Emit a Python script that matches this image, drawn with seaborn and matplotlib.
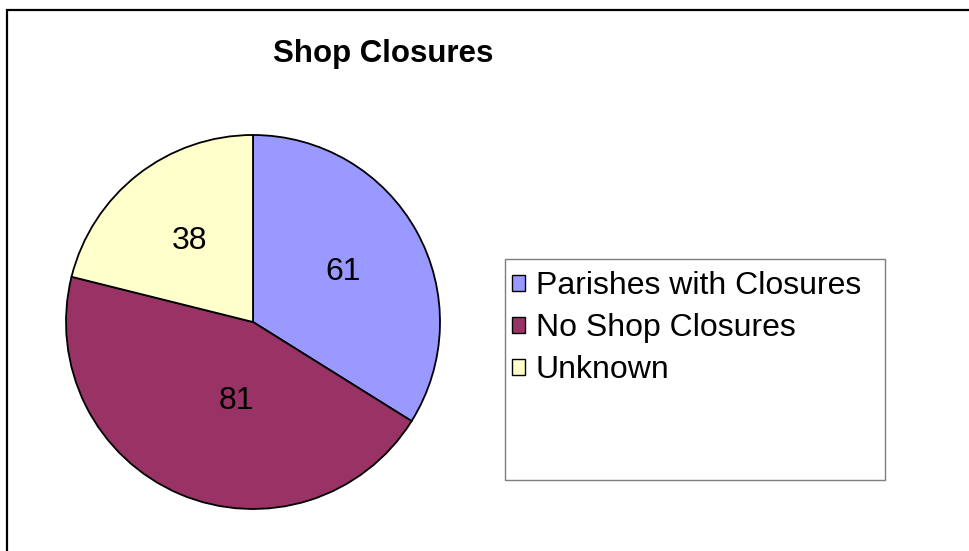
import matplotlib
matplotlib.use('Agg')
import matplotlib.pyplot as plt
from matplotlib.patches import Rectangle
import seaborn as sns

# Data
categories = ['Parishes with Closures', 'No Shop Closures', 'Unknown']
counts = [61, 81, 38]
colors = ['#9999FF', '#993366', '#FFFFCC']

sns.set_theme(style='white')
plt.rcParams['font.family'] = ['Liberation Sans', 'DejaVu Sans']
plt.rcParams['text.color'] = 'black'
palette = sns.color_palette(colors)

fig = plt.figure(figsize=(9.69, 5.51), dpi=100)
fig.patch.set_facecolor('white')

# pie axes: centre ~ (253, 322) px, radius ~187 px
ax = fig.add_axes([66 / 969, (551 - 322 - 187) / 551, 374 / 969, 374 / 551])
wedges, texts, autotexts = ax.pie(
    counts,
    colors=palette,
    startangle=90,
    counterclock=False,
    autopct=lambda p: '{:.0f}'.format(p * sum(counts) / 100),
    pctdistance=0.55,
    wedgeprops=dict(edgecolor='black', linewidth=1.3),
    textprops=dict(fontsize=23, color='black'),
)
# Excel places the big slice's label a little closer to the centre
autotexts[1].set_position((-0.09, -0.42))
ax.set_xlim(-1, 1)
ax.set_ylim(-1, 1)
ax.set_aspect('equal')
ax.axis('off')

fig.text(383 / 969, 1 - 54 / 551, 'Shop Closures', ha='center', va='center',
         fontsize=22.5, fontweight='bold', color='black')

# legend box
fig.add_artist(Rectangle((505 / 969, 1 - 480 / 551), 380 / 969, 221 / 551,
                         transform=fig.transFigure, fill=False,
                         edgecolor='#7f7f7f', linewidth=1.0))
leg = fig.legend(wedges, categories, loc='upper left',
                 bbox_to_anchor=(512 / 969, 1 - 271 / 551),
                 frameon=False, fontsize=23, borderpad=0, borderaxespad=0,
                 handlelength=0.4, handleheight=0.4, handletextpad=0.35,
                 labelspacing=0.38)
for h in leg.legend_handles:
    h.set_linewidth(1.0)
for t in leg.get_texts():
    t.set_color('black')

# outer chart border
fig.add_artist(Rectangle((7 / 969, -0.05), 1.05, 1 - 10 / 551 + 0.05,
                         transform=fig.transFigure, fill=False,
                         edgecolor='black', linewidth=1.6))

fig.savefig('out.png', dpi=100)
